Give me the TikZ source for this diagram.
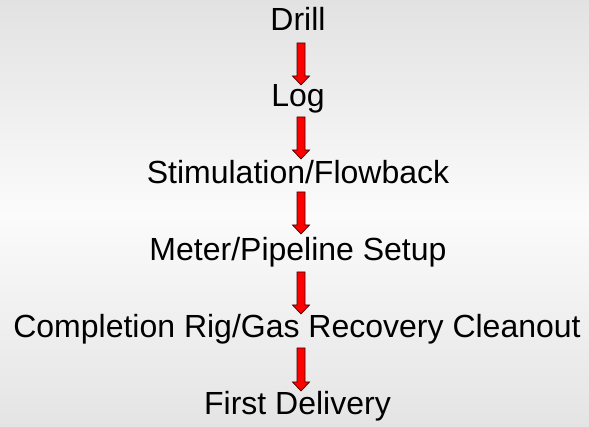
\documentclass[tikz,border=0pt]{standalone}
\usepackage{fontspec}
\setmainfont{Liberation Sans}
\usetikzlibrary{calc}
\definecolor{arrowred}{RGB}{255,0,0}
\definecolor{arrowedge}{RGB}{70,0,0}
\definecolor{bgtop}{RGB}{226,226,226}
\definecolor{bgmid}{RGB}{251,251,251}
\definecolor{bgbot}{RGB}{228,228,228}
\tikzset{
  stage/.style={anchor=base, inner sep=0pt, font=\fontsize{32}{38}\selectfont, text=black},
  blockarrow/.style={fill=arrowred, draw=arrowedge, line width=0.7pt, line join=miter},
}
\newcommand{\blockarr}[2]{%
  \draw[blockarrow] let \p1=(#1), \p2=(#2) in
    (\x1-4pt,\y1) -- (\x1+4pt,\y1) -- (\x1+4pt,\y2+9pt) -- (\x1+8.5pt,\y2+9pt)
    -- (\x1,\y2) -- (\x1-8.5pt,\y2+9pt) -- (\x1-4pt,\y2+9pt) -- cycle;}
\begin{document}
\begin{tikzpicture}[x=1pt,y=1pt]
\shade[top color=bgtop, bottom color=bgbot, middle color=bgmid] (0,0) rectangle (589,-427);
\useasboundingbox (0,0) rectangle (589,-427);
\node[stage] (drill) at (298,-31) {Drill};
\node[stage] (log) at (298,-107) {Log};
\node[stage] (stim) at (298,-184) {Stimulation/Flowback};
\node[stage] (meter) at (298,-261) {Meter/Pipeline Setup};
\node[stage] (compl) at (297,-338) {Completion Rig/Gas Recovery Cleanout};
\node[stage] (first) at (297.5,-414) {First Delivery};
\coordinate (a1s) at ($(drill.base)+(3,-12)$);
\coordinate (a1e) at ($(log.base)+(3,22)$);
\coordinate (a2s) at ($(log.base)+(3,-10)$);
\coordinate (a2e) at ($(stim.base)+(3,25)$);
\coordinate (a3s) at ($(stim.base)+(3,-8)$);
\coordinate (a3e) at ($(meter.base)+(3,27)$);
\coordinate (a4s) at ($(meter.base)+(3,-11)$);
\coordinate (a4e) at ($(compl.base)+(4,24)$);
\coordinate (a5s) at ($(compl.base)+(4,-10)$);
\coordinate (a5e) at ($(first.base)+(3.5,23)$);
\blockarr{a1s}{a1e}
\blockarr{a2s}{a2e}
\blockarr{a3s}{a3e}
\blockarr{a4s}{a4e}
\blockarr{a5s}{a5e}
\end{tikzpicture}
\end{document}
